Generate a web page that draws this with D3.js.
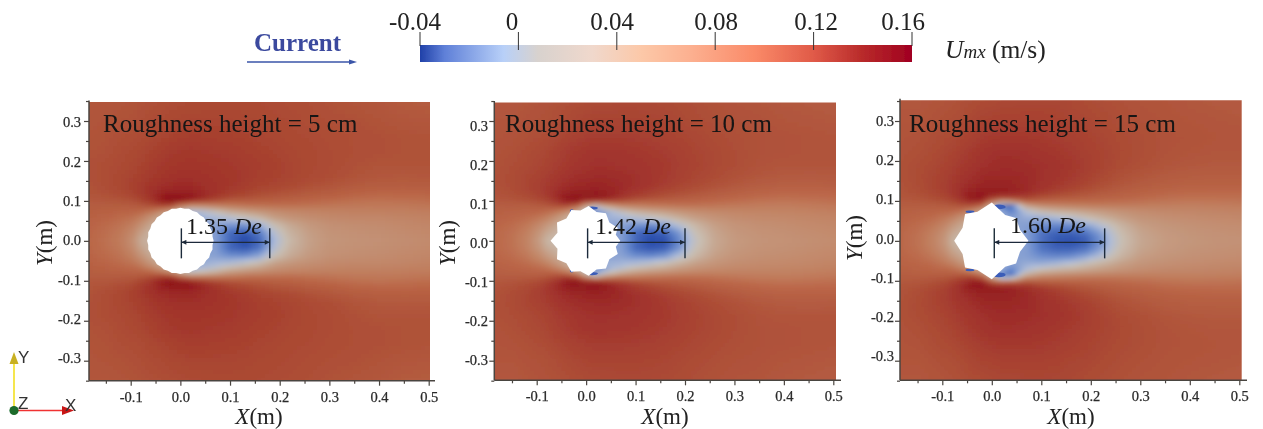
<!DOCTYPE html>
<html><head><meta charset="utf-8">
<script src="https://cdn.jsdelivr.net/npm/d3@7"></script>
<style>
html,body{margin:0;padding:0;background:#fff;overflow:hidden}
text{font-family:"Liberation Serif","Times New Roman",serif}
</style></head><body><svg id="c" width="1263" height="429"></svg>
<script>
// Field sample positions (m) and estimated velocity Umx (m/s), upper half (mirrored about y=0)
const gridX=[-.185,-.15,-.12,-.095,-.08,-.06,-.04,-.02,0,.02,.04,.07,.1,.13,.16,.19,.22,.26,.3,.35,.4,.45,.505];
const gridY=[0,.02,.04,.06,.075,.09,.1,.11,.125,.14,.16,.19,.22,.26,.3,.35];
const field5cm=[
[.1,.09,.08,.06,.035,.03,.03,.02,0,-.01,-.01,-.012,-.03,-.04,-.03,-.002,.025,.045,.055,.058,.06,.063,.066],
[.1,.092,.083,.066,.045,.03,.03,.02,0,-.01,-.01,-.012,-.03,-.034,-.025,.005,.03,.047,.057,.06,.062,.065,.068],
[.103,.096,.088,.076,.06,.04,.03,.02,0,-.01,-.01,-.01,-.015,-.015,-.006,.02,.038,.052,.06,.063,.065,.068,.071],
[.106,.102,.096,.09,.08,.06,.04,.02,0,-.005,-.005,0,.008,.018,.03,.05,.058,.064,.068,.07,.07,.072,.075],
[.11,.107,.104,.102,.1,.09,.07,.05,.02,0,.005,.02,.04,.05,.058,.065,.07,.073,.075,.076,.077,.078,.08],
[.113,.113,.113,.114,.118,.125,.135,.135,.095,.075,.075,.08,.085,.09,.092,.093,.093,.09,.087,.084,.083,.084,.087],
[.116,.117,.119,.122,.128,.138,.152,.16,.155,.145,.135,.122,.112,.11,.108,.106,.104,.099,.095,.09,.088,.09,.093],
[.118,.12,.123,.128,.134,.143,.153,.16,.16,.158,.152,.14,.13,.125,.12,.116,.113,.108,.105,.098,.095,.096,.098],
[.12,.123,.127,.132,.137,.144,.148,.15,.15,.15,.148,.143,.137,.133,.128,.125,.122,.118,.114,.108,.105,.104,.105],
[.121,.124,.128,.133,.136,.141,.145,.147,.148,.148,.146,.143,.14,.136,.132,.13,.127,.123,.12,.115,.112,.111,.112],
[.122,.124,.128,.131,.134,.138,.141,.143,.144,.144,.144,.142,.14,.138,.134,.132,.13,.126,.124,.12,.117,.116,.117],
[.122,.124,.126,.129,.131,.135,.138,.14,.141,.141,.141,.14,.139,.137,.135,.133,.13,.127,.125,.122,.12,.12,.12],
[.121,.122,.125,.127,.129,.132,.135,.138,.139,.14,.139,.138,.137,.135,.133,.131,.129,.127,.125,.123,.122,.121,.121],
[.12,.121,.123,.124,.125,.128,.13,.132,.134,.135,.135,.134,.133,.132,.13,.129,.127,.126,.124,.123,.122,.121,.12],
[.119,.12,.121,.122,.123,.125,.126,.128,.129,.13,.13,.13,.13,.129,.128,.127,.126,.124,.123,.122,.12,.118,.117],
[.118,.118,.119,.12,.121,.122,.123,.124,.125,.126,.126,.127,.127,.127,.126,.125,.124,.123,.121,.119,.117,.114,.113]];
const field10cm=[
[.1,.09,.075,.05,.03,.02,.02,.01,0,-.01,-.01,-.012,-.03,-.04,-.038,-.02,.012,.04,.052,.058,.06,.063,.066],
[.1,.092,.078,.057,.04,.03,.02,.01,0,-.01,-.01,-.012,-.03,-.035,-.032,-.014,.018,.042,.054,.06,.062,.065,.068],
[.103,.096,.086,.07,.055,.04,.03,.02,0,-.01,-.01,-.01,-.016,-.018,-.012,.006,.028,.048,.058,.063,.065,.068,.071],
[.107,.103,.097,.088,.08,.06,.04,.02,0,-.005,-.005,-.002,.006,.014,.024,.038,.05,.06,.066,.069,.07,.072,.075],
[.111,.108,.105,.103,.1,.09,.07,.04,0,-.03,-.01,.015,.035,.045,.052,.06,.066,.071,.073,.074,.075,.077,.08],
[.115,.115,.115,.117,.12,.128,.135,.12,.06,.03,.06,.08,.083,.087,.09,.092,.092,.089,.086,.083,.082,.084,.087],
[.118,.119,.122,.126,.131,.142,.155,.158,.14,.135,.13,.125,.115,.11,.108,.106,.104,.099,.095,.09,.088,.09,.093],
[.12,.123,.127,.132,.138,.148,.157,.161,.16,.16,.156,.145,.135,.128,.122,.118,.114,.108,.104,.098,.095,.096,.098],
[.122,.126,.13,.136,.14,.147,.151,.153,.154,.155,.153,.149,.143,.137,.131,.127,.123,.118,.113,.107,.104,.104,.105],
[.123,.127,.131,.136,.139,.144,.148,.15,.151,.152,.151,.149,.146,.142,.137,.132,.128,.123,.119,.114,.111,.111,.112],
[.124,.127,.131,.134,.137,.141,.145,.147,.148,.149,.149,.148,.146,.143,.139,.135,.131,.127,.123,.119,.117,.116,.117],
[.123,.126,.128,.131,.133,.137,.14,.143,.145,.146,.146,.145,.144,.142,.14,.136,.133,.129,.126,.122,.12,.12,.12],
[.122,.124,.127,.129,.131,.135,.138,.141,.143,.144,.144,.143,.142,.14,.138,.135,.132,.129,.126,.123,.122,.121,.121],
[.121,.122,.124,.126,.127,.13,.133,.135,.137,.138,.138,.138,.137,.136,.134,.132,.13,.127,.125,.123,.122,.121,.12],
[.12,.12,.122,.123,.124,.126,.128,.13,.132,.133,.133,.133,.133,.132,.131,.129,.127,.125,.123,.122,.12,.119,.118],
[.118,.118,.12,.121,.122,.123,.125,.126,.127,.128,.128,.129,.129,.129,.128,.127,.125,.123,.121,.12,.118,.117,.116]];
const field15cm=[
[.1,.09,.075,.055,.03,.02,.02,.01,0,-.01,-.01,-.012,-.028,-.036,-.038,-.034,-.018,.018,.04,.05,.055,.058,.06],
[.1,.092,.078,.06,.04,.03,.02,.01,0,-.01,-.01,-.012,-.027,-.032,-.032,-.027,-.012,.022,.042,.052,.057,.06,.062],
[.103,.096,.086,.072,.055,.04,.03,.02,0,-.01,-.01,-.012,-.018,-.02,-.018,-.01,.004,.03,.048,.056,.06,.063,.065],
[.107,.103,.097,.088,.08,.06,.04,.02,0,-.005,-.012,-.006,-.004,.002,.01,.022,.034,.048,.058,.063,.066,.068,.07],
[.11,.107,.105,.103,.1,.09,.07,.04,0,-.01,-.025,.005,.025,.035,.04,.046,.052,.06,.066,.07,.071,.073,.075],
[.114,.114,.115,.117,.12,.127,.13,.105,.03,-.03,-.03,.05,.07,.076,.08,.083,.084,.084,.082,.08,.079,.08,.082],
[.117,.118,.121,.125,.13,.14,.152,.15,.1,.07,.08,.11,.105,.102,.1,.099,.098,.095,.092,.088,.086,.087,.088],
[.119,.122,.126,.131,.138,.149,.158,.16,.15,.145,.145,.14,.128,.122,.118,.114,.11,.105,.101,.095,.093,.093,.094],
[.121,.125,.13,.135,.14,.148,.152,.155,.155,.155,.153,.149,.142,.135,.129,.124,.119,.113,.109,.104,.101,.1,.1],
[.122,.126,.131,.136,.14,.145,.149,.151,.152,.152,.151,.149,.145,.14,.135,.13,.125,.119,.115,.111,.108,.107,.107],
[.123,.127,.131,.135,.138,.143,.146,.149,.15,.15,.15,.149,.146,.143,.139,.134,.129,.123,.119,.115,.113,.112,.112],
[.123,.126,.129,.132,.135,.139,.142,.145,.147,.148,.148,.147,.146,.144,.141,.137,.132,.127,.124,.12,.118,.117,.117],
[.122,.124,.127,.13,.132,.136,.14,.143,.145,.146,.146,.145,.143,.141,.138,.135,.132,.128,.125,.122,.12,.119,.119],
[.121,.122,.125,.127,.128,.131,.134,.137,.139,.14,.14,.14,.139,.137,.135,.133,.13,.127,.125,.122,.121,.12,.119],
[.12,.12,.122,.124,.125,.127,.13,.132,.133,.134,.134,.134,.134,.133,.131,.13,.128,.125,.123,.121,.12,.119,.118],
[.118,.118,.12,.121,.122,.124,.126,.127,.128,.129,.129,.13,.13,.13,.129,.127,.125,.123,.121,.12,.118,.117,.116]];

// Rough-pile outlines (m), upper half from +x round to -x; mirrored about y=0
const outline5cm=[[.067,0],[.0647,.0106],[.0647,.0215],[.0604,.031],[.058,.0415],[.0518,.0493],[.0474,.0587],[.0398,.0642],[.0335,.0719],[.025,.0748],[.0173,.0802],[.0085,.0802],[0,.083],[-.0085,.0802],[-.0173,.0802],[-.025,.0748],[-.0335,.0719],[-.0398,.0642],[-.0474,.0587],[-.0518,.0493],[-.058,.0415],[-.0604,.031],[-.0647,.0215],[-.0647,.0106],[-.067,0]];
const outline10cm=[[.069,0],[.06,.015],[.064,.033],[.047,.046],[.04,.069],[.021,.072],[.005,.0875],[-.0115,.076],[-.03,.0775],[-.04,.056],[-.059,.046],[-.058,.02],[-.072,0]];
const outline15cm=[[.074,0],[.057,.0275],[.049,.057],[.027,.065],[0,.096],[-.029,.073],[-.054,.067],[-.059,.033],[-.076,0]];
// Small blue pockets between roughness tips: x, y, rx, ry (m)
const pockets10cm=[[.012,.082,.012,.004],[-.029,.075,.004,.004]];
const pockets15cm=[[.014,.085,.014,.006],[-.044,.073,.009,.003]];

// Dimension lines
const dimStart=[.002,.003,.005], dimEnd=[.18,.2,.228];
const dimLabels=["1.35","1.42","1.60"];
const titles=["Roughness height = 5 cm","Roughness height = 10 cm","Roughness height = 15 cm"];

// Axis ticks
const xMajor=[-.1,0,.1,.2,.3,.4,.5], xMinor=[-.15,-.05,.05,.15,.25,.35,.45];
const yMajor=[-.3,-.2,-.1,0,.1,.2,.3], yMinor=[-.35,-.25,-.15,-.05,.05,.15,.25,.35];

// Colour bar
const barTicks=[-.04,0,.04,.08,.12,.16];
const barLabels=["-0.04","0","0.04","0.08","0.12","0.16"];
const barStopsAt=[-.04,-.03,-.006,.008,.03,.05,.07,.096,.12,.14,.16];
const barStopsCol=["#2040a8","#5f80d8","#b8d0f8","#d8d2ce","#f0d8cc","#fcc8a8","#fcb090","#fa8a68","#e05a48","#b82a2a","#a00020"];
// Field colours as they appear in the plots (duller than the bar)
const fieldAt=[-.04,-.02,0,.02,.05,.08,.1,.115,.13,.145,.16];
const fieldCol=["#2246a8","#6688cc","#aebcd8","#c8beb2","#c49a80","#c07c5c","#ba6546","#b35a3e","#a94530","#a0302a","#8e1218"];

const svg=d3.select("#c");
const defs=svg.append("defs");
const f1=defs.append("filter").attr("id","fieldBlur").attr("x","-5%").attr("y","-5%").attr("width","110%").attr("height","110%");
f1.append("feGaussianBlur").attr("stdDeviation",1.9);
const f2=defs.append("filter").attr("id","soft").attr("x","-5%").attr("y","-5%").attr("width","110%").attr("height","110%");
f2.append("feGaussianBlur").attr("stdDeviation",.45);
const f3=defs.append("filter").attr("id","softWhite").attr("x","-10%").attr("y","-10%").attr("width","120%").attr("height","120%");
f3.append("feGaussianBlur").attr("stdDeviation",.7);
const mk=defs.append("marker").attr("id","dimHead").attr("viewBox","0 0 10 10").attr("refX",10).attr("refY",5)
  .attr("markerWidth",6).attr("markerHeight",5).attr("orient","auto-start-reverse").attr("markerUnits","userSpaceOnUse");
mk.append("path").attr("d","M0,0L10,5L0,10Z").attr("fill","#1f2a3a");

const fieldColor=d3.scaleLinear().domain(fieldAt).range(fieldCol).clamp(true);
const colIdx=d3.scaleLinear().domain(gridX).range(d3.range(gridX.length)).clamp(true);
const rowIdx=d3.scaleLinear().domain(gridY).range(d3.range(gridY.length)).clamp(true);
function sample(f,x,y){
  const c=colIdx(x), r=rowIdx(Math.abs(y));
  const c0=Math.min(Math.floor(c),gridX.length-2), r0=Math.min(Math.floor(r),gridY.length-2);
  const a=c-c0,b=r-r0;
  return d3.interpolateNumber(
    d3.interpolateNumber(f[r0][c0],f[r0][c0+1])(a),
    d3.interpolateNumber(f[r0+1][c0],f[r0+1][c0+1])(a))(b);
}
const hy=v=>d3.format(".1f")(v).replace("\u2212","-");
const panels=[
 {f:field5cm,o:outline5cm,p:[],x:[130.7,428.7],left:89,right:430,top:102,bottom:380.7,axRight:435,lab:[95+437/3,1180/3],labX:81,ylX:52,ylY:243,titleX:103,dimTx:186,xlab:259,dimBase:234},
 {f:field10cm,o:outline10cm,p:pockets10cm,x:[536.7,833.3],left:494.3,right:836,top:102.5,bottom:380.3,axRight:841,lab:[95+445/3,1173/3],labX:488,ylX:455,ylY:243,titleX:505,dimTx:595,xlab:665,dimBase:234},
 {f:field15cm,o:outline15cm,p:pockets15cm,x:[942.3,1239.3],left:900,right:1241.7,top:100.3,bottom:380.3,axRight:1247,lab:[95+432/3,1173/3],labX:894,ylX:862,ylY:238,titleX:909,dimTx:1010,xlab:1071,dimBase:233}
];
const tile=4;
const axisCol="#4a4440";
panels.forEach((P,i)=>{
  const xS=d3.scaleLinear().domain([-.1,.5]).range(P.x);
  const yS=d3.scaleLinear().domain([.3,-.3]).range([121,360.7]);
  const g=svg.append("g");
  const cid="clip"+i;
  defs.append("clipPath").attr("id",cid).append("rect").attr("x",P.left).attr("y",P.top).attr("width",P.right-P.left).attr("height",P.bottom-P.top);
  const clipG=g.append("g").attr("clip-path",`url(#${cid})`);
  const fg=clipG.append("g").attr("filter","url(#fieldBlur)");
  const cells=[];
  d3.range(P.left-12,P.right+12,tile).forEach(px=>d3.range(P.top-12,P.bottom+12,tile).forEach(py=>{
    const xv=xS.invert(px+tile/2), yv=yS.invert(py+tile/2);
    cells.push({px,py,v:sample(P.f,xv,yv)});
  }));
  fg.selectAll("rect").data(cells).join("rect")
    .attr("x",d=>d.px).attr("y",d=>d.py).attr("width",tile+.5).attr("height",tile+.5)
    .attr("fill",d=>fieldColor(d.v));
  // pockets (both halves)
  const pk=P.p.flatMap(d=>[d,[d[0],-d[1],d[2],d[3]]]);
  clipG.append("g").attr("filter","url(#soft)").selectAll("ellipse").data(pk).join("ellipse")
    .attr("cx",d=>xS(d[0])).attr("cy",d=>yS(d[1]))
    .attr("rx",d=>Math.abs(xS(d[2])-xS(0))).attr("ry",d=>Math.abs(yS(d[3])-yS(0)))
    .attr("fill","#3a5cb8");
  // pile outline
  const full=P.o.concat(P.o.slice(1,-1).reverse().map(d=>[d[0],-d[1]]));
  g.append("path").attr("filter","url(#softWhite)")
    .attr("d",d3.line().x(d=>xS(d[0])).y(d=>yS(d[1])).curve(d3.curveLinearClosed)(full))
    .attr("fill","#fff");

  // axes
  const axG=g.append("g").attr("filter","url(#soft)");
  const xMaj=axG.append("g").attr("transform",`translate(0,${P.bottom})`)
    .call(d3.axisBottom(xS).tickValues(xMajor).tickSize(5).tickSizeOuter(0).tickFormat(hy));
  xMaj.select(".domain").remove();
  xMaj.selectAll("line").attr("stroke",axisCol).attr("stroke-width",1.2);
  xMaj.selectAll("text").attr("y",21).attr("dy",0).attr("font-size",14.5).attr("fill","#2a2a2a").attr("stroke","#2a2a2a").attr("stroke-width",.25);
  const xMin=axG.append("g").attr("transform",`translate(0,${P.bottom})`)
    .call(d3.axisBottom(xS).tickValues(xMinor).tickSize(3).tickFormat(""));
  xMin.select(".domain").remove();
  xMin.selectAll("line").attr("stroke",axisCol).attr("stroke-width",1.2);
  const yMaj=axG.append("g").attr("transform",`translate(${P.left},0)`)
    .call(d3.axisLeft(yS).tickValues(yMajor).tickSize(5).tickSizeOuter(0).tickFormat(""));
  yMaj.select(".domain").remove();
  yMaj.selectAll("line").attr("stroke",axisCol).attr("stroke-width",1.2);
  const yMin=axG.append("g").attr("transform",`translate(${P.left},0)`)
    .call(d3.axisLeft(yS).tickValues(yMinor).tickSize(3).tickFormat(""));
  yMin.select(".domain").remove();
  yMin.selectAll("line").attr("stroke",axisCol).attr("stroke-width",1.2);
  axG.append("line").attr("x1",P.left).attr("x2",P.axRight).attr("y1",P.bottom).attr("y2",P.bottom).attr("stroke",axisCol).attr("stroke-width",1.5);
  axG.append("line").attr("x1",P.left).attr("x2",P.left).attr("y1",P.top-1.5).attr("y2",P.bottom).attr("stroke",axisCol).attr("stroke-width",1.5);
  const labS=d3.scaleLinear().domain([0,.1]).range([P.lab[0],P.lab[0]-P.lab[1]*.1]);
  axG.selectAll("text.yl").data(yMajor).join("text").attr("class","yl")
    .attr("x",P.labX).attr("y",d=>labS(d)+4.5).attr("text-anchor","end").attr("font-size",14.5).attr("fill","#2a2a2a").attr("stroke","#2a2a2a").attr("stroke-width",.25)
    .text(hy);

  // texts
  const tx=g.append("g").attr("filter","url(#soft)");
  tx.append("text").attr("x",P.titleX).attr("y",132).attr("font-size",25).attr("fill","#141414").text(titles[i]);
  const xl=tx.append("text").attr("x",P.xlab).attr("y",424).attr("text-anchor","middle").attr("font-size",23).attr("fill","#222");
  xl.append("tspan").attr("font-style","italic").text("X"); xl.append("tspan").text("(m)");
  const yl=tx.append("text").attr("transform",`translate(${P.ylX},${P.ylY}) rotate(-90)`).attr("text-anchor","middle").attr("font-size",23).attr("fill","#222");
  yl.append("tspan").attr("font-style","italic").text("Y"); yl.append("tspan").text("(m)");
  // dimension
  const x0=xS(dimStart[i]),x1=xS(dimEnd[i]);
  const yD=yS(0)+1.5;
  tx.append("line").attr("x1",x0).attr("x2",x1).attr("y1",yD).attr("y2",yD).attr("stroke","#1f2a3a").attr("stroke-width",1.2)
    .attr("marker-start","url(#dimHead)").attr("marker-end","url(#dimHead)");
  tx.selectAll("line.dimt").data([x0,x1]).join("line").attr("class","dimt").attr("x1",d=>d).attr("x2",d=>d)
    .attr("y1",yD-14).attr("y2",yD+16).attr("stroke","#1f2a3a").attr("stroke-width",1.4);
  const dl=tx.append("text").attr("x",P.dimTx).attr("y",P.dimBase).attr("font-size",24).attr("fill","#141414");
  dl.append("tspan").text(dimLabels[i]+" ");
  dl.append("tspan").attr("font-style","italic").text("De");
});

// colour bar
const cb=d3.scaleLinear().domain([-.04,.16]).range([420,912]);
const grad=defs.append("linearGradient").attr("id","barGrad");
grad.selectAll("stop").data(barStopsAt).join("stop")
  .attr("offset",d=>(cb(d)-420)/492).attr("stop-color",(d,i)=>barStopsCol[i]);
const header=svg.append("g").attr("filter","url(#soft)");
header.append("rect").attr("x",cb(-.04)).attr("y",45).attr("width",cb(.16)-cb(-.04)).attr("height",17).attr("fill","url(#barGrad)");
header.selectAll("line.t").data(barTicks).join("line").attr("class","t")
  .attr("x1",d=>cb(d)).attr("x2",d=>cb(d)).attr("y1",32).attr("y2",(d,i)=>i==0||i==5?46:50).attr("stroke","#333").attr("stroke-width",1);
const barLabelX=[415,512,612,716,816,903];
header.selectAll("text.bl").data(barLabels).join("text").attr("class","bl")
  .attr("x",(d,i)=>barLabelX[i]).attr("y",30).attr("text-anchor","middle").attr("font-size",25).attr("fill","#222").text(d=>d);
const um=header.append("text").attr("x",945).attr("y",58).attr("font-size",25.5).attr("fill","#222");
um.append("tspan").attr("font-style","italic").text("U");
um.append("tspan").attr("font-style","italic").attr("font-size",19).text("mx");
um.append("tspan").text(" (m/s)");
header.append("text").attr("x",254).attr("y",51).attr("font-size",25).attr("font-weight","bold").attr("fill","#3b4a9e").text("Current");
header.append("line").attr("x1",247).attr("x2",350).attr("y1",62).attr("y2",62).attr("stroke","#3b55a8").attr("stroke-width",1.3);
header.append("path").attr("d",d3.line()([[349,59.5],[357,62],[349,64.5]])+"Z").attr("fill","#3b55a8");

// orientation triad
const tr=svg.append("g").attr("filter","url(#soft)");
tr.append("line").attr("x1",14).attr("x2",14).attr("y1",410).attr("y2",360).attr("stroke","#f4e43a").attr("stroke-width",1.8);
tr.append("path").attr("d",d3.line()([[9.5,364],[14,352],[18.5,364]])+"Z").attr("fill","#c8b020");
tr.append("line").attr("x1",14).attr("x2",64).attr("y1",410.5).attr("y2",410.5).attr("stroke","#f03030").attr("stroke-width",1.6);
tr.append("path").attr("d",d3.line()([[62,406],[74,410.5],[62,415]])+"Z").attr("fill","#c81818");
tr.append("circle").attr("cx",14).attr("cy",410.5).attr("r",4.6).attr("fill","#1a6a2a");
tr.selectAll("text").data([["Y",18,363],["Z",18,409],["X",65,411]]).join("text")
  .attr("x",d=>d[1]).attr("y",d=>d[2]).attr("font-size",17).attr("fill","#333").style("font-family","'Liberation Sans',sans-serif").text(d=>d[0]);
</script></body></html>
